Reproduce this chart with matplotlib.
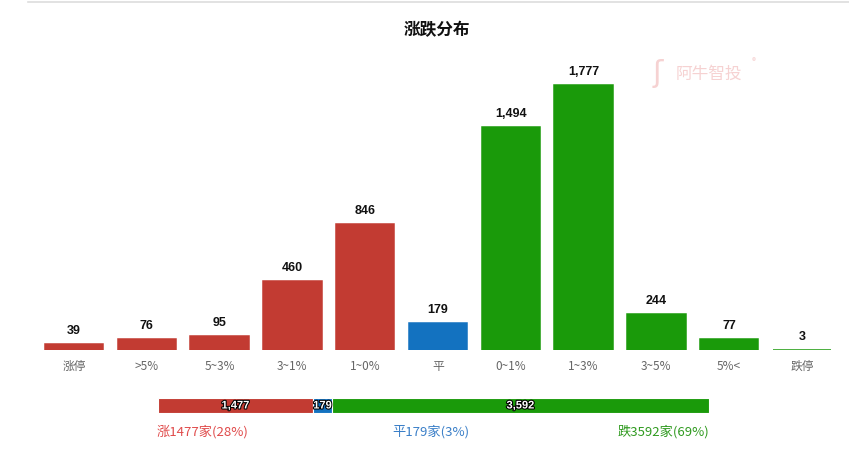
import matplotlib
matplotlib.use("Agg")
import matplotlib.pyplot as plt
import matplotlib.patheffects as pe
from matplotlib.lines import Line2D

plt.rcParams['font.family'] = ['Noto Sans CJK SC', 'DejaVu Sans']

categories = ["涨停", ">5%", "5~3%", "3~1%", "1~0%", "平", "0~1%", "1~3%", "3~5%", "5%<", "跌停"]
values = [39, 76, 95, 460, 846, 179, 1494, 1777, 244, 77, 3]
groups = ["up", "up", "up", "up", "up", "flat", "down", "down", "down", "down", "down"]

summary_labels = ["涨", "平", "跌"]
summary_values = [1477, 179, 3592]
summary_pcts = [28, 3, 69]

RED = "#c23b32"
BLUE = "#1372c0"
GREEN = "#1a9a0a"
color_map = {"up": RED, "flat": BLUE, "down": GREEN}

W, H = 849, 459
fig = plt.figure(figsize=(W / 100, H / 100), dpi=100)

def ax_rect(x0, y0, x1, y1):
    return [x0 / W, 1 - y1 / H, (x1 - x0) / W, (y1 - y0) / H]

# top separator line
fig.add_artist(Line2D([28 / W, 1], [1 - 2 / H, 1 - 2 / H], color="#dddddd", lw=1.2))

# title
fig.text(437 / W, 1 - 30 / H, "涨跌分布", ha="center", va="center", fontsize=12, fontweight="bold", color="#111111")

# watermark
fig.text(676 / W, 1 - 74 / H, "阿牛智投", ha="left", va="center", fontsize=12, color="#f6d2d2")
fig.text(752 / W, 1 - 62 / H, "®", ha="left", va="center", fontsize=6, color="#f6d2d2")
fig.text(658 / W, 1 - 74 / H, "ʃ", ha="center", va="center", fontsize=22, color="#f6d2d2")

# main bar chart
ax = fig.add_axes(ax_rect(37.6, 55, 838.4, 350))
x = list(range(len(categories)))
cols = [color_map[g] for g in groups]
bars = ax.bar(x, values, width=0.8, color=cols, edgecolor=cols, linewidth=1.1)
ymax = 1777 * (350 - 55) / 265
ax.set_ylim(0, ymax)
ax.set_xlim(-0.5, len(categories) - 0.5)
for xi, v in zip(x, values):
    ax.annotate(f"{v:,}", (xi, v), xytext=(0, 5), textcoords="offset points",
                ha="center", va="bottom", fontsize=9, fontweight="bold", color="#111111",
                family=["Liberation Sans", "DejaVu Sans"])
ax.set_xticks(x)
ax.set_xticklabels(categories, fontsize=8.5, color="#666666")
ax.tick_params(axis="x", length=0, pad=7)
ax.set_yticks([])
for s in ax.spines.values():
    s.set_visible(False)

# summary stacked bar
ax2 = fig.add_axes(ax_rect(158, 398, 709, 413))
total = sum(summary_values)
left = 0
scols = [RED, BLUE, GREEN]
for v, c in zip(summary_values, scols):
    ax2.barh(0, v, left=left, height=1, color=c, edgecolor="white", linewidth=0.8)
    ax2.text(left + v / 2, 0, f"{v:,}", ha="center", va="center", fontsize=8,
             fontweight="bold", color="white", family=["Liberation Sans", "DejaVu Sans"],
             path_effects=[pe.withStroke(linewidth=1.5, foreground="black")])
    left += v
ax2.set_xlim(0, total)
ax2.set_ylim(-0.5, 0.5)
ax2.axis("off")

# summary text
txt_cols = ["#e04b4b", "#3a7fc8", "#2f9a1f"]
fig.text(157 / W, 1 - 432 / H, f"{summary_labels[0]}{summary_values[0]}家({summary_pcts[0]}%)",
         ha="left", va="center", fontsize=9.5, color=txt_cols[0])
fig.text(431 / W, 1 - 432 / H, f"{summary_labels[1]}{summary_values[1]}家({summary_pcts[1]}%)",
         ha="center", va="center", fontsize=9.5, color=txt_cols[1])
fig.text(709 / W, 1 - 432 / H, f"{summary_labels[2]}{summary_values[2]}家({summary_pcts[2]}%)",
         ha="right", va="center", fontsize=9.5, color=txt_cols[2])

fig.savefig("out.png", dpi=100)
